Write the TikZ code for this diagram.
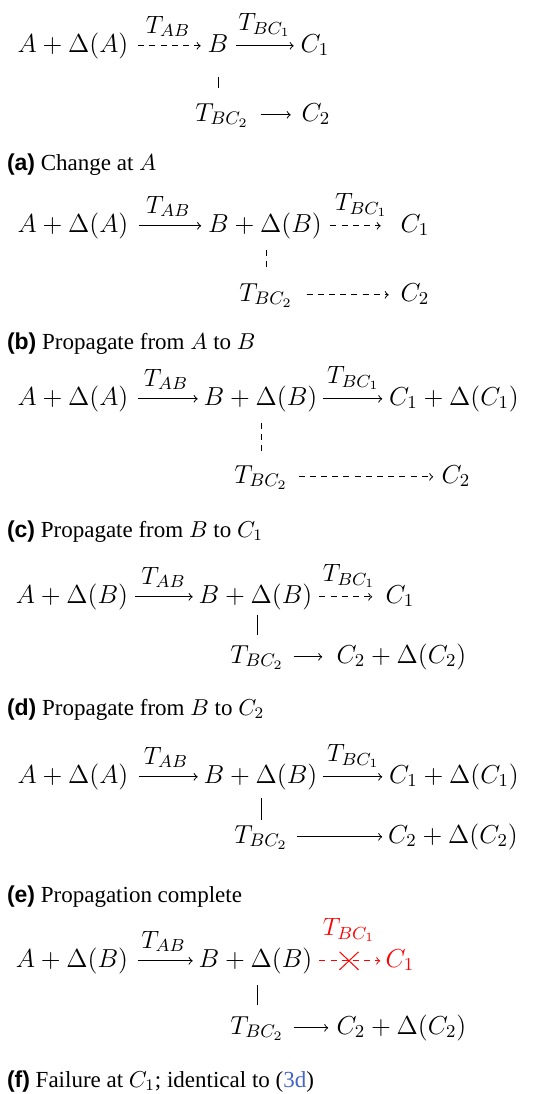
\documentclass[tikz,border=0pt]{standalone}
\usepackage{fix-cm}
\usepackage[no-math]{fontspec}
\setmainfont{Liberation Serif}
\setsansfont{Liberation Sans}
\usetikzlibrary{shapes.misc}
\definecolor{linkblue}{RGB}{70,100,200}
\definecolor{failred}{RGB}{255,0,0}
\begin{document}
\begin{tikzpicture}[x=0.5pt,y=-0.5pt,
  every node/.style={inner sep=0pt, outer sep=0pt},
  mnode/.style={anchor=base, font=\fontsize{13}{16}\selectfont},
  lab/.style={midway, anchor=south, yshift=4.5pt, font=\fontsize{12.5}{15}\selectfont},
  captxt/.style={anchor=base west, font=\fontsize{11.5}{14}\selectfont},
  arr/.style={->, line width=0.5pt},
  shrt/.style 2 args={shorten <=#1pt, shorten >=#2pt},
  dsh/.style={dash pattern=on 3pt off 2.6pt},
  vline/.style={line width=0.5pt},
  ax/.style={yshift=3.1pt},
  failcross/.style={midway, solid, -, shorten <=0pt, shorten >=0pt, cross out,
    draw=failred, line width=0.5pt, minimum width=9.5pt, minimum height=9pt}
]
\path[fill=white] (0,0) rectangle (533,1094);
\useasboundingbox (0,0) rectangle (533,1094);

% ---------- (a)
\node[mnode] (aA) at (73,52) {$A+\Delta(A)$};
\node[mnode] (aB) at (218,52) {$B$};
\node[mnode] (aC1) at (315,52) {$C_1$};
\node[mnode] (aT) at (222,121) {$T_{BC_2}$};
\node[mnode] (aC2) at (316,121) {$C_2$};
\draw[arr,dsh,shrt={5}{3.5}] ([ax]aA.base east) -- ([ax]aB.base west) node[lab]{$T_{AB}$};
\draw[arr,shrt={4}{3.5}] ([ax]aB.base east) -- ([ax]aC1.base west) node[lab]{$T_{BC_1}$};
\draw[vline,shrt={12.5}{16.5}] (aB.base) -- (aB.base |- aT.base);
\draw[arr,shrt={6}{5.5}] ([ax]aT.base east) -- ([ax]aC2.base west);
\node[captxt] (capa) at (7,170) {{\sffamily\bfseries (a)} Change at $A$};

% ---------- (b)
\node[mnode] (bA) at (73,232) {$A+\Delta(A)$};
\node[mnode] (bB) at (265,232) {$B+\Delta(B)$};
\node[mnode] (bC1) at (415,232) {$C_1$};
\node[mnode] (bT) at (266,301) {$T_{BC_2}$};
\node[mnode] (bC2) at (415,301) {$C_2$};
\draw[arr,shrt={5.5}{3.5}] ([ax]bA.base east) -- ([ax]bB.base west) node[lab]{$T_{AB}$};
\draw[arr,dsh,shrt={4.25}{10}] ([ax]bB.base east) -- ([ax]bC1.base west) node[lab]{$T_{BC_1}$};
\draw[vline,dsh,shrt={9}{16.5}] (bT.base |- bB.base) -- (bT.base);
\draw[arr,dsh,shrt={7}{6}] ([ax]bT.base east) -- ([ax]bC2.base west);
\node[captxt] (capb) at (7,349) {{\sffamily\bfseries (b)} Propagate from $A$ to $B$};

% ---------- (c)
\node[mnode] (cA) at (73,405) {$A+\Delta(A)$};
\node[mnode] (cB) at (260.5,405) {$B+\Delta(B)$};
\node[mnode] (cC1) at (454,405) {$C_1+\Delta(C_1)$};
\node[mnode] (cT) at (261,483) {$T_{BC_2}$};
\node[mnode] (cC2) at (456,483) {$C_2$};
\draw[arr,shrt={5}{3}] ([ax]cA.base east) -- ([ax]cB.base west) node[lab]{$T_{AB}$};
\draw[arr,shrt={3}{3.5}] ([ax]cB.base east) -- ([ax]cC1.base west) node[lab]{$T_{BC_1}$};
\draw[vline,dsh,shrt={9}{15.5}] (cT.base |- cB.base) -- (cT.base);
\draw[arr,dsh,shrt={5.5}{4.25}] ([ax]cT.base east) -- ([ax]cC2.base west);
\node[captxt] (capc) at (7,537) {{\sffamily\bfseries (c)} Propagate from $B$ to $C_1$};

% ---------- (d)
\node[mnode] (dA) at (72,603) {$A+\Delta(B)$};
\node[mnode] (dB) at (255.5,603) {$B+\Delta(B)$};
\node[mnode] (dC1) at (400,603) {$C_1$};
\node[mnode] (dT) at (257,663) {$T_{BC_2}$};
\node[mnode] (dC2) at (401.5,663) {$C_2+\Delta(C_2)$};
\draw[arr,shrt={3.5}{3}] ([ax]dA.base east) -- ([ax]dB.base west) node[lab]{$T_{AB}$};
\draw[arr,dsh,shrt={3.5}{6.75}] ([ax]dB.base east) -- ([ax]dC1.base west) node[lab]{$T_{BC_1}$};
\draw[vline,shrt={6}{14}] (dT.base |- dB.base) -- (dT.base);
\draw[arr,shrt={5}{7.25}] ([ax]dT.base east) -- ([ax]dC2.base west);
\node[captxt] (capd) at (7,715) {{\sffamily\bfseries (d)} Propagate from $B$ to $C_2$};

% ---------- (e)
\node[mnode] (eA) at (73,783) {$A+\Delta(A)$};
\node[mnode] (eB) at (260.5,783) {$B+\Delta(B)$};
\node[mnode] (eC1) at (454,783) {$C_1+\Delta(C_1)$};
\node[mnode] (eT) at (261,843) {$T_{BC_2}$};
\node[mnode] (eC2) at (453,843) {$C_2+\Delta(C_2)$};
\draw[arr,shrt={5.3}{3}] ([ax]eA.base east) -- ([ax]eB.base west) node[lab]{$T_{AB}$};
\draw[arr,shrt={3}{3.5}] ([ax]eB.base east) -- ([ax]eC1.base west) node[lab]{$T_{BC_1}$};
\draw[vline,shrt={7.5}{11.5}] (eT.base |- eB.base) -- (eT.base);
\draw[arr,shrt={4.5}{3}] ([ax]eT.base east) -- ([ax]eC2.base west);
\node[captxt] (cape) at (7,902) {{\sffamily\bfseries (e)} Propagation complete};

% ---------- (f)
\node[mnode] (fA) at (72,967) {$A+\Delta(B)$};
\node[mnode] (fB) at (255.5,967) {$B+\Delta(B)$};
\node[mnode,text=failred] (fC1) at (400,967) {$C_1$};
\node[mnode] (fT) at (257,1034) {$T_{BC_2}$};
\node[mnode] (fC2) at (401.5,1034) {$C_2+\Delta(C_2)$};
\draw[arr,shrt={5}{3}] ([ax]fA.base east) -- ([ax]fB.base west) node[lab]{$T_{AB}$};
\draw[arr,dsh,failred,shrt={3.5}{2.75}] ([ax]fB.base east) -- ([ax]fC1.base west)
   node[failcross] (fX) {}
   node[lab,yshift=5pt,text=failred]{$T_{BC_1}$};
\draw[vline,shrt={9}{14.5}] (fT.base |- fB.base) -- (fT.base);
\draw[arr,shrt={5}{4.25}] ([ax]fT.base east) -- ([ax]fC2.base west);
\node[captxt] (capf) at (7,1087) {{\sffamily\bfseries (f)} Failure at $C_1$; identical to (\textcolor{linkblue}{3d})};
\end{tikzpicture}
\end{document}
